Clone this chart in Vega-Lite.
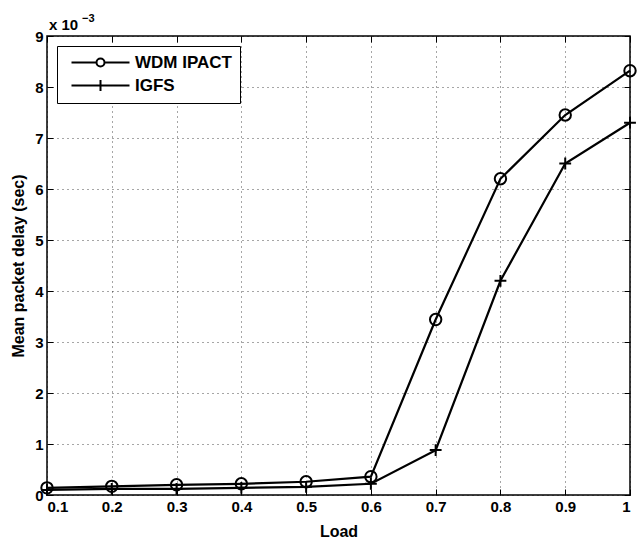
{
  "$schema": "https://vega.github.io/schema/vega-lite/v6.json",
  "width": 583,
  "height": 459,
  "autosize": {"type": "none"},
  "padding": {"left": 47, "top": 36, "right": 7, "bottom": 49},
  "config": {
    "view": {"stroke": "black", "strokeWidth": 1.5},
    "font": "Liberation Sans",
    "axis": {
      "labelFont": "Liberation Sans",
      "labelFontWeight": "bold",
      "labelFontSize": 15,
      "labelColor": "black",
      "titleFont": "Liberation Sans",
      "titleFontWeight": "bold",
      "titleFontSize": 16,
      "titleColor": "black",
      "domain": false,
      "tickColor": "black",
      "tickSize": -6,
      "tickWidth": 1,
      "gridColor": "black",
      "gridDash": [1, 4],
      "gridOpacity": 0.7,
      "gridWidth": 1
    }
  },
  "data": {
    "values": [
      {"load": 0.1, "delay": 0.00014, "series": "WDM IPACT"},
      {"load": 0.2, "delay": 0.00017, "series": "WDM IPACT"},
      {"load": 0.3, "delay": 0.0002, "series": "WDM IPACT"},
      {"load": 0.4, "delay": 0.00022, "series": "WDM IPACT"},
      {"load": 0.5, "delay": 0.00026, "series": "WDM IPACT"},
      {"load": 0.6, "delay": 0.00036, "series": "WDM IPACT"},
      {"load": 0.7, "delay": 0.00344, "series": "WDM IPACT"},
      {"load": 0.8, "delay": 0.0062, "series": "WDM IPACT"},
      {"load": 0.9, "delay": 0.00745, "series": "WDM IPACT"},
      {"load": 1.0, "delay": 0.00832, "series": "WDM IPACT"},
      {"load": 0.1, "delay": 0.0001, "series": "IGFS"},
      {"load": 0.2, "delay": 0.00012, "series": "IGFS"},
      {"load": 0.3, "delay": 0.00012, "series": "IGFS"},
      {"load": 0.4, "delay": 0.00014, "series": "IGFS"},
      {"load": 0.5, "delay": 0.00016, "series": "IGFS"},
      {"load": 0.6, "delay": 0.00022, "series": "IGFS"},
      {"load": 0.7, "delay": 0.00088, "series": "IGFS"},
      {"load": 0.8, "delay": 0.0042, "series": "IGFS"},
      {"load": 0.9, "delay": 0.0065, "series": "IGFS"},
      {"load": 1.0, "delay": 0.0073, "series": "IGFS"}
    ]
  },
  "layer": [
    {
      "mark": {"type": "line", "color": "black", "strokeWidth": 2.2},
      "encoding": {
        "x": {
          "field": "load", "type": "quantitative",
          "scale": {"domain": [0.1, 1], "nice": false, "zero": false},
          "axis": {"title": "Load", "values": [0.1, 0.2, 0.3, 0.4, 0.5, 0.6, 0.7, 0.8, 0.9, 1], "format": "~g", "labelPadding": 10, "titlePadding": 9}
        },
        "y": {
          "field": "delay", "type": "quantitative",
          "scale": {"domain": [0, 0.009], "nice": false},
          "axis": {"title": "Mean packet delay (sec)", "values": [0, 0.001, 0.002, 0.003, 0.004, 0.005, 0.006, 0.007, 0.008, 0.009], "labelExpr": "format(datum.value*1000, 'd')", "labelPadding": 10, "titlePadding": 8}
        },
        "detail": {"field": "series"}
      }
    },
    {
      "transform": [{"filter": "datum.series === 'WDM IPACT'"}],
      "mark": {"type": "point", "shape": "circle", "filled": false, "color": "black", "strokeWidth": 2, "size": 130, "opacity": 1},
      "encoding": {
        "x": {"field": "load", "type": "quantitative", "axis": {"orient": "top", "labels": false, "grid": false, "title": null, "values": [0.1, 0.2, 0.3, 0.4, 0.5, 0.6, 0.7, 0.8, 0.9, 1]}},
        "y": {"field": "delay", "type": "quantitative", "axis": {"orient": "right", "labels": false, "grid": false, "title": null, "values": [0, 0.001, 0.002, 0.003, 0.004, 0.005, 0.006, 0.007, 0.008, 0.009]}}
      }
    },
    {
      "transform": [{"filter": "datum.series === 'IGFS'"}],
      "mark": {"type": "point", "shape": "M-1,0H1M0,-1V1", "filled": false, "color": "black", "strokeWidth": 2, "size": 140, "opacity": 1},
      "encoding": {
        "x": {"field": "load", "type": "quantitative", "axis": null},
        "y": {"field": "delay", "type": "quantitative", "axis": null}
      }
    },
    {
      "mark": {"type": "point", "filled": false, "color": "black", "strokeWidth": 2, "size": 100, "opacity": 0},
      "encoding": {
        "x": {"field": "load", "type": "quantitative", "axis": null},
        "y": {"field": "delay", "type": "quantitative", "axis": null},
        "shape": {
          "field": "series", "type": "nominal",
          "scale": {"domain": ["WDM IPACT", "IGFS"], "range": ["M-5.8,0H-0.8M0.8,0H5.8M-0.8,0A0.8,0.8 0 1,0 0.8,0A0.8,0.8 0 1,0 -0.8,0", "M-5.8,0H5.8M0,-1.1V1.1"]},
          "legend": {
            "title": null,
            "orient": "top-left",
            "offset": 10,
            "padding": 8,
            "strokeColor": "black",
            "fillColor": "white",
            "symbolSize": 100,
            "symbolOffset": 27,
            "symbolOpacity": 1,
            "symbolStrokeWidth": 2,
            "symbolStrokeColor": "black",
            "symbolFillColor": "transparent",
            "labelFont": "Liberation Sans",
            "labelFontWeight": "bold",
            "labelFontSize": 17,
            "labelColor": "black",
            "labelOffset": 26,
            "rowPadding": 5
          }
        }
      }
    },
    {
      "data": {"values": [{"load": 0.1, "delay": 0.009, "label": "x 10"}]},
      "mark": {"type": "text", "align": "left", "baseline": "alphabetic", "dx": 2, "dy": -6, "fontSize": 15, "fontWeight": "bold", "font": "Liberation Sans", "color": "black"},
      "encoding": {
        "x": {"field": "load", "type": "quantitative", "axis": null},
        "y": {"field": "delay", "type": "quantitative", "axis": null},
        "text": {"field": "label"}
      }
    },
    {
      "data": {"values": [{"load": 0.1, "delay": 0.009, "label": "−3"}]},
      "mark": {"type": "text", "align": "left", "baseline": "alphabetic", "dx": 35, "dy": -14, "fontSize": 11, "fontWeight": "bold", "font": "Liberation Sans", "color": "black"},
      "encoding": {
        "x": {"field": "load", "type": "quantitative", "axis": null},
        "y": {"field": "delay", "type": "quantitative", "axis": null},
        "text": {"field": "label"}
      }
    }
  ],
  "resolve": {"axis": {"x": "independent", "y": "independent"}}
}
